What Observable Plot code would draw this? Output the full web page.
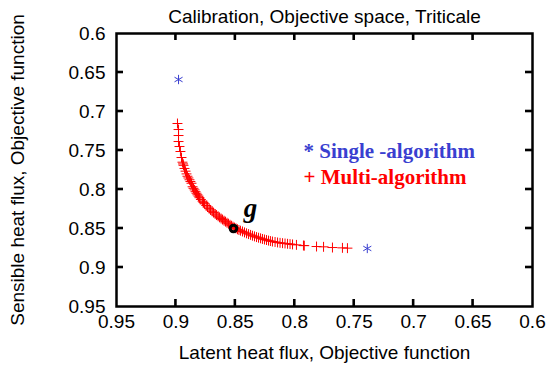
<!DOCTYPE html>
<html>
<head>
<meta charset="utf-8">
<script src="https://cdn.jsdelivr.net/npm/d3@7"></script>
<script src="https://cdn.jsdelivr.net/npm/@observablehq/plot@0.6"></script>
<style>
  html, body { margin: 0; padding: 0; background: white; }
</style>
</head>
<body>
<div id="chart"></div>
<script>
const title = "Calibration, Objective space, Triticale";
const xLabel = "Latent heat flux, Objective function";
const yLabel = "Sensible heat flux, Objective function";
const xTicks = [0.95, 0.9, 0.85, 0.8, 0.75, 0.7, 0.65, 0.6];
const yTicks = [0.6, 0.65, 0.7, 0.75, 0.8, 0.85, 0.9, 0.95];

// Multi-algorithm (red +)
const multiX = [0.8987, 0.8978, 0.8978, 0.8978, 0.8970, 0.8962, 0.8953, 0.8945, 0.8940, 0.8936,
  0.8928, 0.8919, 0.8911, 0.8903, 0.8895, 0.8886, 0.8878, 0.8869, 0.8860, 0.8852,
  0.8843, 0.8835, 0.8827, 0.8819, 0.8810, 0.8802, 0.8790, 0.8776, 0.8768, 0.8760,
  0.8745, 0.8734, 0.8720, 0.8709, 0.8695, 0.8684, 0.8670, 0.8659, 0.8645, 0.8633,
  0.8620, 0.8608, 0.8595, 0.8583, 0.8570, 0.8558, 0.8545, 0.8532, 0.8520, 0.8507,
  0.8495, 0.8482, 0.8470, 0.8457, 0.8440, 0.8423, 0.8406, 0.8389, 0.8372, 0.8356,
  0.8339, 0.8322, 0.8305, 0.8288, 0.8272, 0.8255, 0.8238, 0.8221, 0.8205, 0.8188,
  0.8166, 0.8145, 0.8124, 0.8103, 0.8082, 0.8061, 0.8040, 0.8019, 0.7986, 0.7927,
  0.7920, 0.7817, 0.7758, 0.7683, 0.7599, 0.7557];
const multiY = [0.7154, 0.7231, 0.7308, 0.7385, 0.7449, 0.7513, 0.7590, 0.7650, 0.7672, 0.7690,
  0.7730, 0.7765, 0.7800, 0.7830, 0.7852, 0.7875, 0.7898, 0.7920, 0.7965, 0.7985,
  0.8005, 0.8028, 0.8048, 0.8068, 0.8085, 0.8105, 0.8128, 0.8150, 0.8165, 0.8182,
  0.8205, 0.8225, 0.8245, 0.8262, 0.8280, 0.8296, 0.8314, 0.8328, 0.8343, 0.8357,
  0.8372, 0.8385, 0.8400, 0.8412, 0.8426, 0.8438, 0.8452, 0.8464, 0.8476, 0.8488,
  0.8498, 0.8510, 0.8519, 0.8528, 0.8538, 0.8550, 0.8562, 0.8572, 0.8582, 0.8592,
  0.8601, 0.8610, 0.8618, 0.8626, 0.8634, 0.8641, 0.8648, 0.8655, 0.8661, 0.8667,
  0.8673, 0.8679, 0.8684, 0.8688, 0.8692, 0.8696, 0.8700, 0.8704, 0.8710, 0.8718,
  0.8720, 0.8731, 0.8735, 0.8744, 0.8748, 0.8752];

// Single-algorithm (blue *)
const singleX = [0.8978, 0.7390];
const singleY = [0.6590, 0.8756];

// Selected solution g
const selX = [0.8516];
const selY = [0.8500];
const selLabel = ["g"];

const legendLabels = ["* Single -algorithm", "+ Multi-algorithm"];

const multi = multiX.map((x, i) => ({x, y: multiY[i]}));
const single = singleX.map((x, i) => ({x, y: singleY[i]}));
const sel = selX.map((x, i) => ({x, y: selY[i], label: selLabel[i]}));

const blue = "#3a3fd0";
const serif = "'Liberation Serif', 'Times New Roman', serif";

const W = 549, H = 371, mL = 116, mR = 17, mT = 33, mB = 65;
const frameW = W - mL - mR, frameH = H - mT - mB, tickLen = 7, tickW = 2.6;
const xDom = [0.95, 0.6], yDom = [0.95, 0.6];
const xMin = Math.min(...xDom), xMax = Math.max(...xDom);
const yMin = Math.min(...yDom), yMax = Math.max(...yDom);
const ux = (xMax - xMin) / frameW;   // x data units per pixel
const uy = (yMax - yMin) / frameH;   // y data units per pixel
const innerX = xTicks.slice(1, -1), innerY = yTicks.slice(1, -1);

const chart = Plot.plot({
  width: W,
  height: H,
  marginLeft: mL,
  marginRight: mR,
  marginTop: mT,
  marginBottom: mB,
  style: {fontFamily: "'Liberation Sans', Arial, sans-serif", fontSize: "19px", background: "white", color: "black", overflow: "visible"},
  x: {domain: xDom},
  y: {domain: yDom},
  marks: [
    Plot.frame({stroke: "black", fill: "none", strokeWidth: 2.5}),
    // inward tick marks on all four sides (filled rects)
    Plot.rect(innerX, {x1: d => d - ux * tickW / 2, x2: d => d + ux * tickW / 2, y1: yMax, y2: yMax - uy * tickLen, fill: "#000000"}),
    Plot.rect(innerX, {x1: d => d - ux * tickW / 2, x2: d => d + ux * tickW / 2, y1: yMin, y2: yMin + uy * tickLen, fill: "#000000"}),
    Plot.rect(innerY, {y1: d => d - uy * tickW / 2, y2: d => d + uy * tickW / 2, x1: xMax, x2: xMax - ux * tickLen, fill: "#000000"}),
    Plot.rect(innerY, {y1: d => d - uy * tickW / 2, y2: d => d + uy * tickW / 2, x1: xMin, x2: xMin + ux * tickLen, fill: "#000000"}),
    // tick labels
    Plot.axisX(xTicks, {anchor: "bottom", tickSize: 0, tickPadding: 8, tickFormat: d => String(d), label: null}),
    Plot.axisY(yTicks, {anchor: "left", tickSize: 0, tickPadding: 11, tickFormat: d => String(d), label: null}),
    Plot.dot(multi, {x: "x", y: "y", symbol: "plus", r: 3.3, stroke: "#ff0000", strokeWidth: 1}),
    Plot.dot(single, {x: "x", y: "y", symbol: "asterisk", r: 4.4, stroke: blue, strokeWidth: 1}),
    Plot.dot(sel, {x: "x", y: "y", symbol: "circle", r: 3.3, stroke: "black", strokeWidth: 3, fill: "none"}),
    Plot.text(sel, {x: "x", y: "y", text: "label", fontFamily: serif, fontStyle: "italic", fontWeight: "bold", fontSize: 27, fill: "black",
      transform: (data, facets) => ({data: data.map(d => ({...d, x: 0.8372, y: 0.8245})), facets})}),
    Plot.text([legendLabels[0]], {text: d => d, x: 0.7927, y: 0.7513, textAnchor: "start", fill: blue, fontFamily: serif, fontWeight: "bold", fontSize: 21}),
    Plot.text([legendLabels[1]], {text: d => d, x: 0.7927, y: 0.7846, textAnchor: "start", fill: "#ff0000", fontFamily: serif, fontWeight: "bold", fontSize: 21}),
    Plot.text([title], {text: d => d, frameAnchor: "top", lineAnchor: "middle", dy: -17, fontSize: 19}),
    Plot.text([xLabel], {text: d => d, frameAnchor: "bottom", lineAnchor: "middle", dy: 46, fontSize: 19}),
    Plot.text([yLabel], {text: d => d, frameAnchor: "left", textAnchor: "middle", lineAnchor: "middle", rotate: -90, dx: -99, fontSize: 19})
  ]
});
document.getElementById("chart").appendChild(chart);
</script>
</body>
</html>
